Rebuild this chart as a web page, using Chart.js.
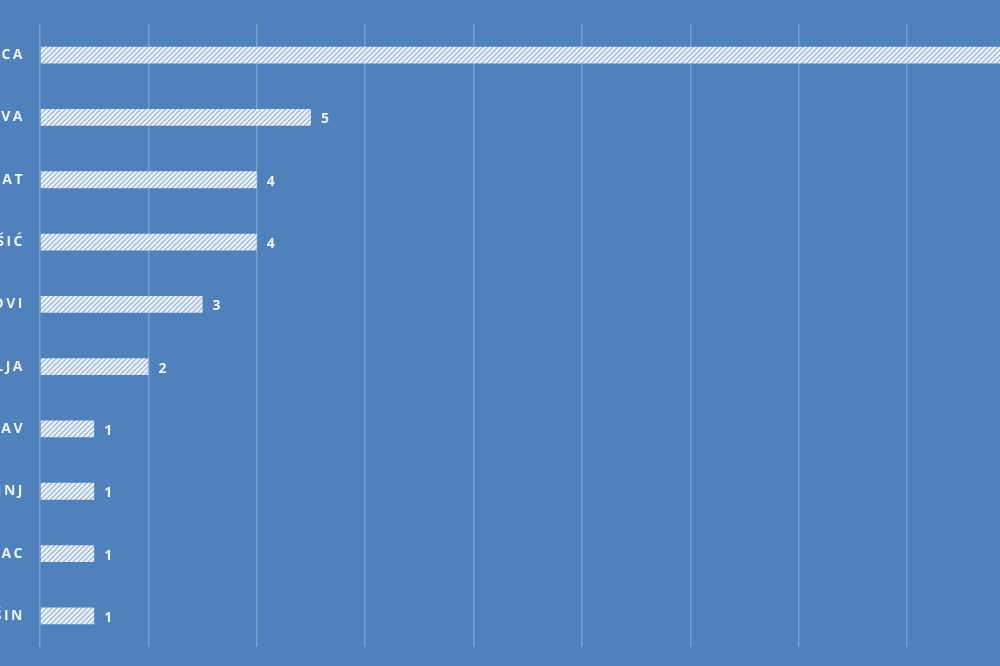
<!DOCTYPE html>
<html>
<head>
<meta charset="utf-8">
<script src="https://cdn.jsdelivr.net/npm/chart.js@4/dist/chart.umd.min.js"></script>
<style>
  html, body { margin: 0; padding: 0; background: #4f81bd; overflow: hidden; }
  #wrap { position: absolute; left: -200px; top: 0; width: 1324px; height: 666px; }
</style>
</head>
<body>
<div id="wrap"><canvas id="myChart"></canvas></div>
<script>
// Montenegrin towns, cut off at the left edge as in the picture
const towns = ['PODGORICA', 'BUDVA', 'TIVAT', 'NIKŠIĆ', 'HERCEG NOVI', 'PLJEVLJA', 'PLAV', 'ULCINJ', 'MOJKOVAC', 'KOLAŠIN']
const counts = [18, 5, 4, 4, 3, 2, 1, 1, 1, 1]
const xTicks = [0, 2, 4, 6, 8, 10, 12, 14, 16, 18, 20]

function hatch() {
  let c = document.createElement('canvas')
  c.width = 5
  c.height = 5
  let g = c.getContext('2d')
  g.fillStyle = '#eef3fa'
  g.fillRect(0, 0, 5, 5)
  g.strokeStyle = '#9cb8de'
  g.lineWidth = 1.3
  g.beginPath()
  g.moveTo(-1, 6); g.lineTo(6, -1)
  g.moveTo(-1, 1); g.lineTo(1, -1)
  g.moveTo(4, 6); g.lineTo(6, 4)
  g.stroke()
  return g.createPattern(c, 'repeat')
}

const valueLabels = {
  id: 'valueLabels',
  afterDatasetsDraw(chart) {
    let ctx = chart.ctx
    ctx.save()
    ctx.font = 'bold 14px "Open Sans", sans-serif'
    ctx.fillStyle = '#eef3fa'
    ctx.textAlign = 'left'
    ctx.textBaseline = 'middle'
    chart.getDatasetMeta(0).data.forEach((bar, i) => {
      ctx.fillText(counts[i], bar.x + 10, bar.y + 2)
    })
    ctx.restore()
  }
}

const spacing = {
  id: 'spacing',
  beforeDraw(chart) { chart.ctx.letterSpacing = '2.5px' }
}

let myChart = document.getElementById('myChart').getContext('2d')
let towns_chart = new Chart(myChart, {
  type: 'bar',
  data: {
    labels: towns,
    datasets: [
      {
        data: counts,
        backgroundColor: hatch(),
        borderWidth: 0,
        categoryPercentage: 0.27,
        barPercentage: 1
      }
    ]
  },
  plugins: [valueLabels, spacing],
  options: {
    indexAxis: 'y',
    responsive: true,
    maintainAspectRatio: false,
    animation: false,
    layout: { padding: { top: 24, bottom: 19, left: 0, right: 0 } },
    plugins: { legend: { display: false }, tooltip: { enabled: false } },
    scales: {
      x: {
        min: 0,
        max: 20,
        afterBuildTicks: (scale) => { scale.ticks = xTicks.map((v) => ({ value: v })) },
        afterFit: (scale) => { scale.height = 0 },
        ticks: { display: false },
        grid: { color: 'rgba(255,255,255,0.24)', lineWidth: 1.5, drawTicks: false },
        border: { display: false }
      },
      y: {
        afterFit: (scale) => {
          scale.width = 240
          scale.paddingTop = 0
          scale.paddingBottom = 0
        },
        ticks: {
          color: '#eef3fa',
          padding: 15,
          font: { family: '"Open Sans", sans-serif', size: 14, weight: 'bold' }
        },
        grid: { display: false, drawTicks: false },
        border: { display: false }
      }
    }
  }
})
</script>
</body>
</html>
